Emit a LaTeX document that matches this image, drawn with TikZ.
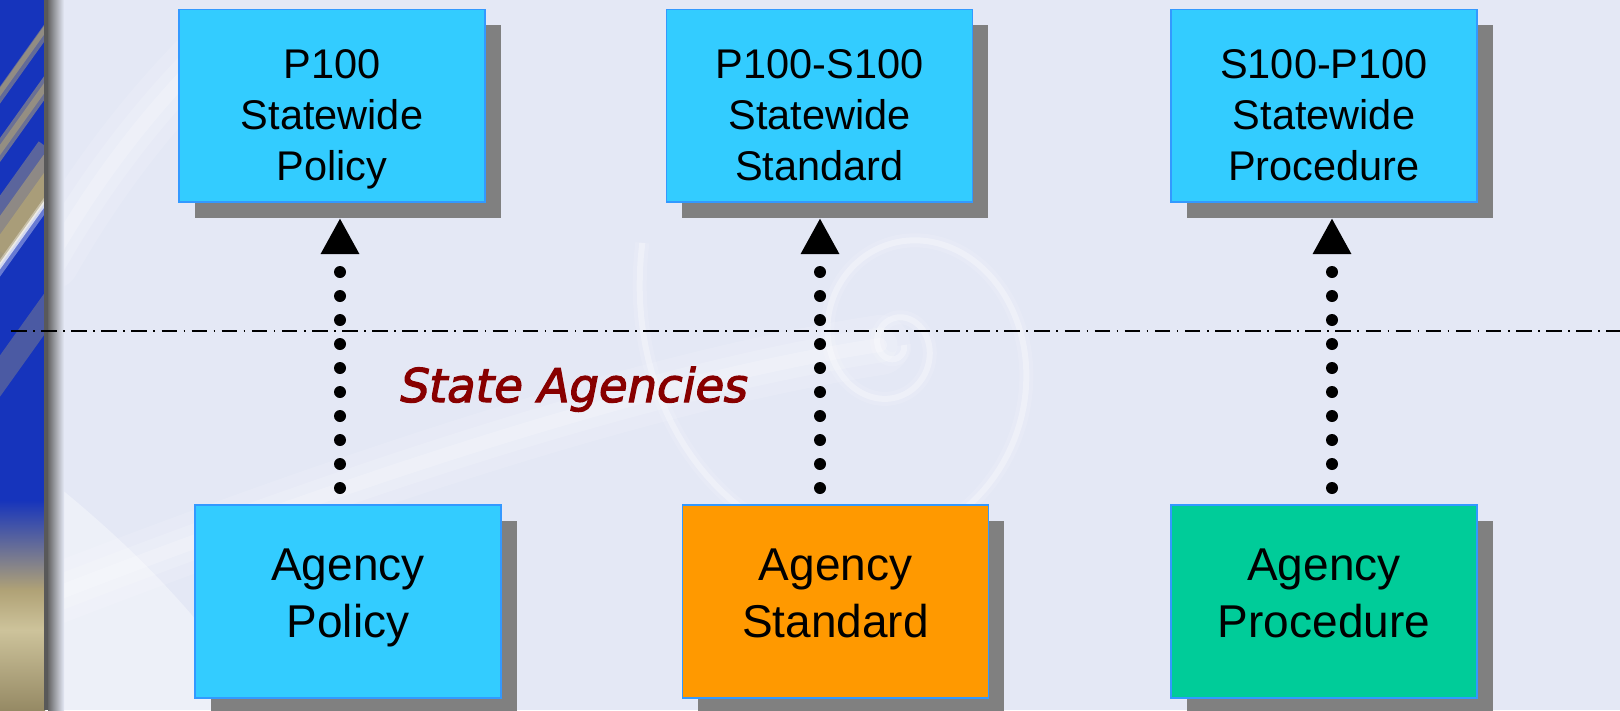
\documentclass[tikz,border=0pt]{standalone}
\usepackage{fontspec}
\setmainfont{Liberation Sans}
\newfontfamily\agfont[FakeSlant=0.2, FakeBold=2.5]{DejaVu Sans}
\usetikzlibrary{arrows.meta,calc,shadows}
\definecolor{bg}{RGB}{228,232,245}
\definecolor{cyanbox}{HTML}{33CCFF}
\definecolor{orangebox}{HTML}{FF9900}
\definecolor{greenbox}{HTML}{00CC99}
\definecolor{boxline}{HTML}{3399FF}
\definecolor{shadowgray}{HTML}{808080}
\definecolor{agred}{HTML}{880000}
\definecolor{bandblue}{RGB}{22,52,188}
\definecolor{bandgold}{RGB}{176,162,118}
\definecolor{bandbeige}{RGB}{205,195,155}
\newcommand\hT{\rule{0pt}{58.5pt}}
\newcommand\dT{\rule[-12pt]{0pt}{12pt}}
\newcommand\hB{\rule{0pt}{37pt}}
\newcommand\dB{\rule[-23pt]{0pt}{23pt}}
\begin{document}
\begin{tikzpicture}[x=1pt,y=-1pt,
  boxbase/.style={draw=boxline, line width=1.8pt, inner sep=0pt, outer sep=0pt,
    minimum width=306pt, align=center,
    general shadow={fill=shadowgray, draw=none, shadow xshift=15.5pt, shadow yshift=-15.5pt}},
  topbox/.style={boxbase, fill=cyanbox, minimum height=192.5pt,
    font=\fontsize{41.5pt}{51pt}\selectfont},
  botbox/.style={boxbase, minimum height=193pt,
    font=\fontsize{46pt}{57pt}\selectfont},
  conn/.style={line width=12pt, line cap=round, dash pattern=on 0pt off 24pt,
    shorten <=17pt, shorten >=16pt, -{Triangle[length=36pt,width=36pt]}},
  sep/.style={line width=2pt, dash pattern=on 15.5pt off 6.5pt on 1.6pt off 6.5pt},
  agtext/.style={text=agred, inner sep=0pt, font=\agfont\fontsize{46.5pt}{56pt}\selectfont}
]
\useasboundingbox (0,0) rectangle (1620,710);
% background
\fill[bg] (0,0) rectangle (1620,710);
% soft light streaks
\foreach \w/\o in {60/0.12,35/0.15,14/0.2}{
  \draw[white, opacity=\o, line width=\w pt, line cap=round]
    (40,600) .. controls (350,480) and (650,380) .. (880,345);
  \draw[white, opacity=\o, line width=\w pt, line cap=round]
    (50,260) .. controls (90,190) and (140,120) .. (210,50);
}
\fill[white, opacity=0.35] (50,480) .. controls (150,560) and (220,640) .. (260,710) -- (50,710) -- cycle;
% swirl
\foreach \w/\o in {14/0.12,6/0.3}{
  \draw[white, opacity=\o, line width=\w pt] plot[domain=0:920, samples=320, variable=\t]
    ({895+9*exp(0.0037*\t)*cos(\t)}, {345+10*exp(0.0037*\t)*sin(\t)});
}
% left band
\begin{scope}
  \clip (0,0) rectangle (45,710);
  \fill[bandblue] (0,0) rectangle (45,710);
  \foreach \a/\w/\o in {95/10/0.5, 92/5/0.6, 150/14/0.55, 150/6/0.6, 230/40/0.45, 240/28/0.6, 250/18/0.8}{
    \draw[bandgold, line width=\w pt, opacity=\o] (-10,\a+14) -- (55,\a-77);
  }
  \draw[white, line width=10pt, opacity=0.35] (-10,282) -- (55,191);
  \draw[white, line width=4pt, opacity=0.7] (-10,280) -- (55,189);
  \draw[bandgold, line width=24pt, opacity=0.35] (-10,390) -- (55,299);
  \shade[top color=bandblue, bottom color=bandgold] (0,500) rectangle (45,590);
  \shade[top color=bandgold, bottom color=bandbeige] (0,590) rectangle (45,630);
  \shade[top color=bandbeige, bottom color=bandgold!85!black] (0,630) rectangle (45,710);
\end{scope}
\fill[black!65] (44,0) rectangle (48,710);
\shade[left color=black!60, right color=bg] (48,0) rectangle (64,710);
% separator
\coordinate (sepL) at (11,331);
\coordinate (sepR) at (1620,331);
\draw[sep] (sepL) -- (sepR);
% boxes
\node[topbox] (T1) at (332,105.75) {\hT P100\\Statewide\\Policy\dT};
\node[topbox] (T2) at (819.5,105.75) {\hT P100-S100\\Statewide\\Standard\dT};
\node[topbox] (T3) at (1324,105.75) {\hT S100-P100\\Statewide\\Procedure\dT};
\node[botbox, fill=cyanbox] (B1) at (348,601.5) {\hB Agency\\Policy\dB};
\node[botbox, fill=orangebox] (B2) at (835.5,601.5) {\hB Agency\\Standard\dB};
\node[botbox, fill=greenbox] (B3) at (1324,601.5) {\hB Agency\\Procedure\dB};
% connectors
\coordinate (c1) at (340,0);
\coordinate (c2) at (820,0);
\coordinate (c3) at (1332,0);
\draw[conn] (B1.north -| c1) -- (T1.south -| c1);
\draw[conn] (B2.north -| c2) -- (T2.south -| c2);
\draw[conn] (B3.north -| c3) -- (T3.south -| c3);
% label
\node[agtext, anchor=base west] (SA) at (397,402) {State Agencies};
\end{tikzpicture}
\end{document}
